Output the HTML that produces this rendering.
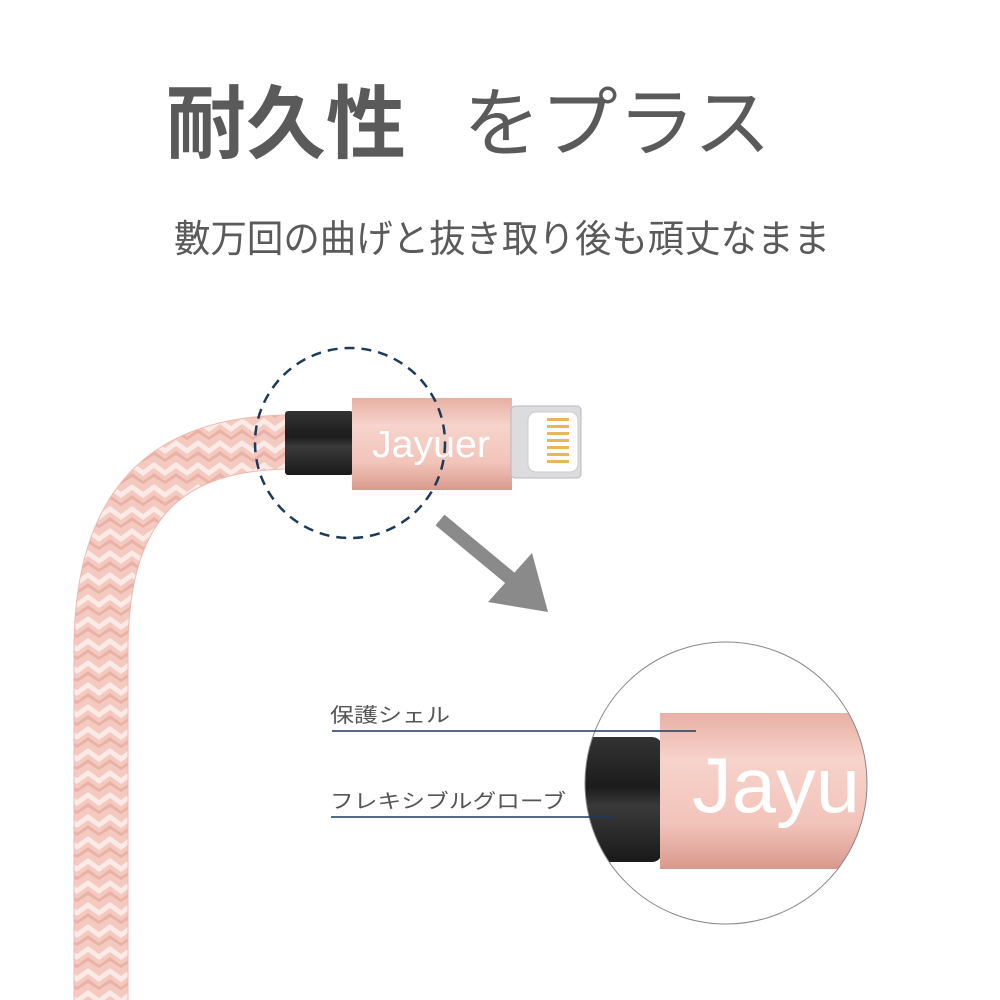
<!DOCTYPE html>
<html><head><meta charset="utf-8"><style>
html,body{margin:0;padding:0;background:#fff;}
svg{display:block}
</style></head><body>
<svg width="1000" height="1000" viewBox="0 0 1000 1000" xmlns="http://www.w3.org/2000/svg">
<defs>
<pattern id="braid" width="22" height="22" patternUnits="userSpaceOnUse">
<rect width="22" height="22" fill="#f3c9c0"/>
<path d="M0 0 L11 8 L22 0 L22 6 L11 14 L0 6Z" fill="#fbeae6"/>
<path d="M0 11 L11 19 L22 11 L22 15 L11 22 L0 15Z" fill="#eab1a6"/>
</pattern>
<linearGradient id="pink" x1="0" y1="0" x2="0" y2="1">
<stop offset="0" stop-color="#e8b0a4"/><stop offset="0.3" stop-color="#f6d3cb"/><stop offset="0.7" stop-color="#f2c4ba"/><stop offset="1" stop-color="#d9998d"/>
</linearGradient>
<linearGradient id="blk" x1="0" y1="0" x2="0" y2="1">
<stop offset="0" stop-color="#333"/><stop offset="0.4" stop-color="#1c1c1c"/><stop offset="0.55" stop-color="#3a3a3a"/><stop offset="1" stop-color="#1a1a1a"/>
</linearGradient>
<clipPath id="bigc"><circle cx="726" cy="783" r="141"/></clipPath>
</defs>
<g font-family="'Liberation Sans','Noto Sans CJK JP',sans-serif" fill="#5a5a5a">
<text x="166" y="152" font-size="80" font-weight="bold" textLength="240" lengthAdjust="spacingAndGlyphs">耐久性</text>
<text x="463" y="150" font-size="76" textLength="308" lengthAdjust="spacingAndGlyphs">をプラス</text>
<text x="174" y="252" font-size="38" textLength="656" lengthAdjust="spacingAndGlyphs">數万回の曲げと抜き取り後も頑丈なまま</text>
</g>
<!-- cable -->
<path d="M292 442 C170 442 101 500 101 650 L101 1000" stroke="#efb9ae" stroke-width="55" fill="none"/>
<path d="M292 442 C170 442 101 500 101 650 L101 1000" stroke="url(#braid)" stroke-width="53" fill="none"/>
<!-- connector -->
<rect x="285" y="411" width="68" height="64" rx="3" fill="url(#blk)"/>
<rect x="352" y="398" width="160" height="92" fill="url(#pink)"/>
<text x="372" y="457" font-family="'Liberation Sans',sans-serif" font-size="38" fill="#fff" textLength="118" lengthAdjust="spacingAndGlyphs">Jayuer</text>
<rect x="511" y="406" width="70" height="72" rx="4" fill="#dcdcdf" stroke="#b8b8bc"/>
<rect x="528" y="412" width="50" height="60" rx="8" fill="#fff" stroke="#ccc"/>
<g fill="#e6b85c">
<rect x="547" y="418" width="22" height="3"/><rect x="547" y="425" width="22" height="3"/><rect x="547" y="432" width="22" height="3"/><rect x="547" y="439" width="22" height="3"/><rect x="547" y="446" width="22" height="3"/><rect x="547" y="453" width="22" height="3"/><rect x="547" y="460" width="22" height="3"/>
</g>
<circle cx="350" cy="443" r="95" fill="none" stroke="#1e3a5a" stroke-width="2.5" stroke-dasharray="10 7"/>
<!-- arrow -->
<line x1="440" y1="520" x2="510" y2="578" stroke="#8a8a8a" stroke-width="14"/>
<polygon points="488,602 532,553 548,612" fill="#8a8a8a"/>
<!-- zoom circle -->
<g clip-path="url(#bigc)">
<rect x="582" y="737" width="80" height="125" rx="10" fill="url(#blk)"/>
<rect x="660" y="713" width="220" height="156" fill="url(#pink)"/>
<text x="692" y="812" font-family="'Liberation Sans',sans-serif" font-size="78" fill="#fff" textLength="168" lengthAdjust="spacingAndGlyphs">Jayu</text>
</g>
<circle cx="726" cy="783" r="141" fill="none" stroke="#888" stroke-width="1"/>
<g font-family="'Liberation Sans','Noto Sans CJK JP',sans-serif" fill="#555" font-size="20">
<text x="330" y="722" textLength="120" lengthAdjust="spacingAndGlyphs">保護シェル</text>
<text x="330" y="808" textLength="236" lengthAdjust="spacingAndGlyphs">フレキシブルグローブ</text>
</g>
<line x1="332" y1="731" x2="696" y2="731" stroke="#1e3a5a" stroke-width="1.5"/>
<line x1="331" y1="817" x2="614" y2="817" stroke="#1e3a5a" stroke-width="1.5"/>
</svg>
</body></html>
